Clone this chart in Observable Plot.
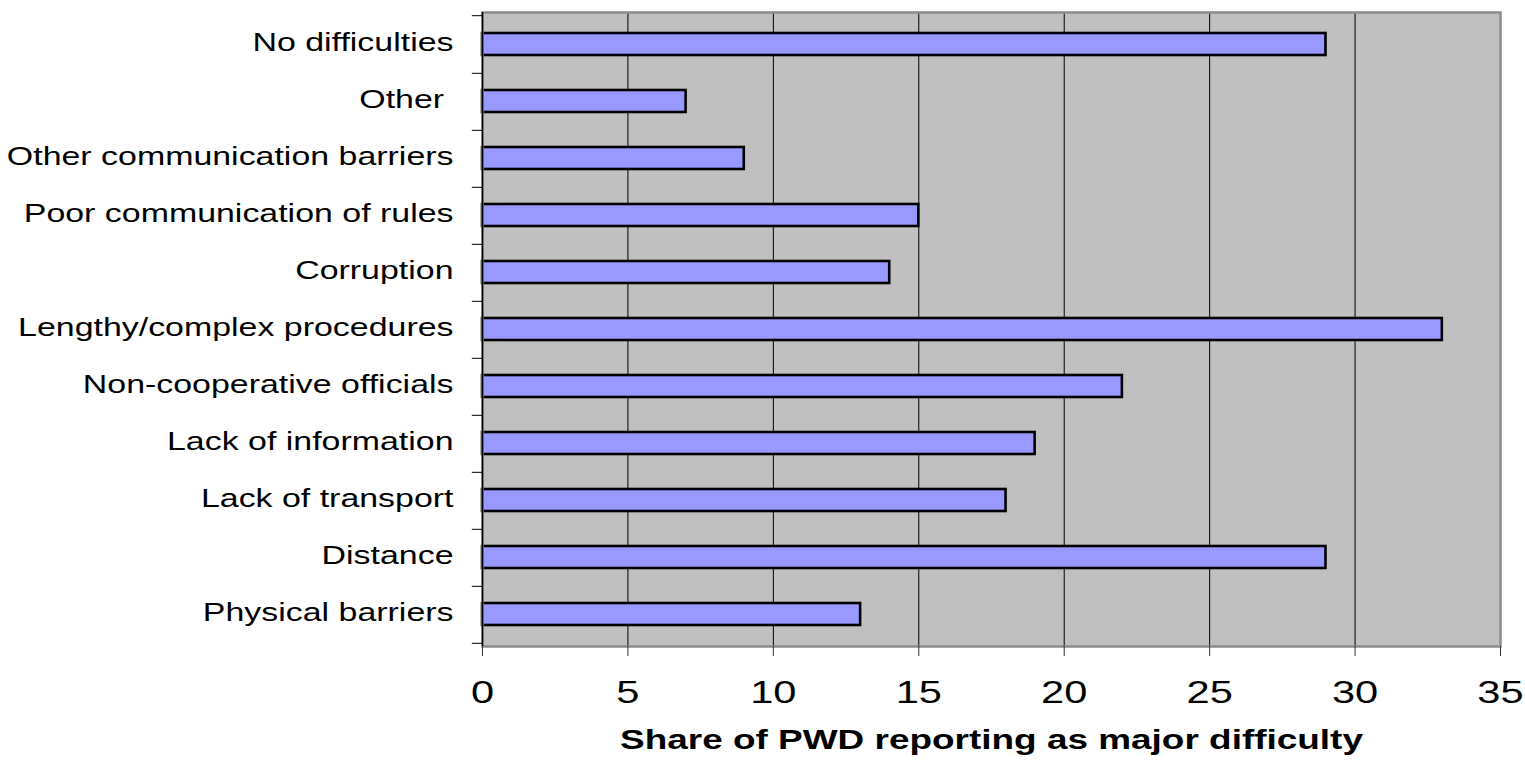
<!DOCTYPE html>
<html>
<head>
<meta charset="utf-8">
<script src="https://cdn.jsdelivr.net/npm/d3@7"></script>
<script src="https://cdn.jsdelivr.net/npm/@observablehq/plot@0.6"></script>
<style>
  html, body { margin: 0; padding: 0; background: #fff; }
</style>
</head>
<body>
<div id="chart"></div>
<script>
const categories = [
  "No difficulties",
  "Other ",
  "Other communication barriers",
  "Poor communication of rules",
  "Corruption",
  "Lengthy/complex procedures",
  "Non-cooperative officials",
  "Lack of information",
  "Lack of transport",
  "Distance",
  "Physical barriers"
];
const values = [29, 7, 9, 15, 14, 33, 22, 19, 18, 29, 13];
const xTicks = [0, 5, 10, 15, 20, 25, 30, 35];
const xTitle = "Share of PWD reporting as major difficulty";

const data = categories.map((c, i) => ({category: c, value: values[i]}));

const W = 1525, H = 764;
const mTop = 12, mBottom = 118, mLeft = 482, mRight = 25;
const step = (H - mTop - mBottom) / categories.length;
const FONT = "Liberation Sans, Arial, Helvetica, sans-serif";

const chart = Plot.plot({
  width: W,
  height: H,
  marginTop: mTop,
  marginBottom: mBottom,
  marginLeft: mLeft,
  marginRight: mRight,
  style: {background: "#fff", color: "#000", fontFamily: FONT},
  x: {domain: [0, 35]},
  y: {domain: categories, paddingInner: 0.62, paddingOuter: 0.31},
  marks: [
    Plot.frame({fill: "#c0c0c0"}),
    Plot.gridX(xTicks.filter(t => t > 0 && t < 35), {stroke: "#000", strokeOpacity: 1, strokeWidth: 1}),
    Plot.barX(data, {x: "value", y: "category", fill: "#9999ff", stroke: "#000", strokeWidth: 2.6}),
    Plot.frame({stroke: "#8c8c8c", strokeWidth: 2.5}),
    Plot.ruleY([0], {frameAnchor: "bottom", stroke: "#555", strokeWidth: 2}),
    Plot.ruleX([0], {stroke: "#000", strokeWidth: 1.5}),
    // category boundary ticks on the y axis
    Plot.ruleY(categories, {y: d => d, x1: -0.35, x2: 0, dy: step / 2, stroke: "#000", strokeWidth: 1}),
    Plot.ruleY(categories.slice(0, 1), {y: d => d, x1: -0.35, x2: 0, dy: -step / 2, stroke: "#000", strokeWidth: 1}),
    Plot.axisY({tickSize: 0, tickPadding: 29, fontSize: 25.5, fontFamily: FONT, label: null, dy: -2}),
    Plot.axisX(xTicks, {tickSize: 10, tickPadding: 24, fontSize: 32, fontFamily: FONT, label: null, stroke: "#333"}),
    Plot.text([xTitle], {frameAnchor: "bottom", dy: 102, text: d => d, fontSize: 28, fontWeight: "bold", fontFamily: FONT, fill: "#000"})
  ]
});

// the source picture is stretched horizontally: stretch the texts the same way
function stretch(sel, s) {
  chart.querySelectorAll(sel).forEach(t => {
    const x = +(t.getAttribute("x") || 0);
    const tr = t.getAttribute("transform") || "";
    t.setAttribute("transform", `${tr} translate(${x},0) scale(${s},1) translate(${-x},0)`);
  });
}
stretch('g[aria-label="y-axis tick label"] text', 1.33);
stretch('g[aria-label="x-axis tick label"] text', 1.3);
stretch('g[aria-label="text"] text', 1.32);

document.getElementById("chart").appendChild(chart);
</script>
</body>
</html>
